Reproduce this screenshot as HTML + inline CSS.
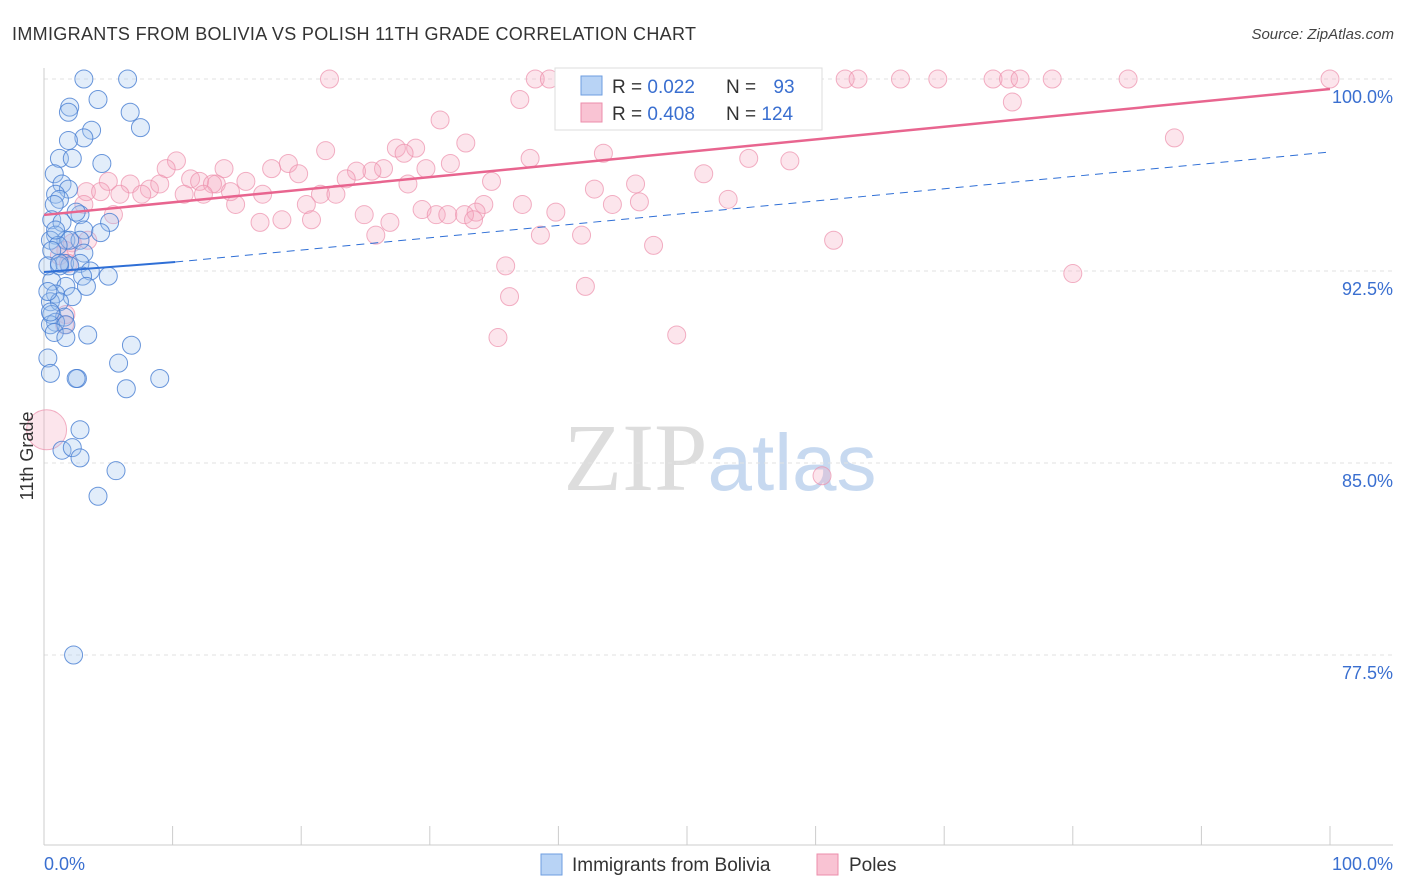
<!DOCTYPE html>
<html><head><meta charset="utf-8"><style>
body{margin:0;background:#fff;font-family:"Liberation Sans",sans-serif;}
svg{display:block}
</style></head><body>
<svg id="chart" width="1406" height="892" viewBox="0 0 1406 892" xmlns="http://www.w3.org/2000/svg">
<text x="12" y="40" font-size="18" fill="#333" textLength="684">IMMIGRANTS FROM BOLIVIA VS POLISH 11TH GRADE CORRELATION CHART</text>
<text x="1394" y="39" font-size="15" fill="#444" font-style="italic" text-anchor="end">Source: ZipAtlas.com</text>
<text x="720" y="490" font-size="96" fill="#ddd" text-anchor="middle" font-family="Liberation Serif,serif">ZIP<tspan fill="#c7d9f0" font-family="Liberation Sans,sans-serif" font-size="80">atlas</tspan></text>
<g id="grid"></g>
<g id="axes"></g>
<g id="pts"></g>
<g id="trends"></g>
<text transform="translate(33,456) rotate(-90)" font-size="18" fill="#333" text-anchor="middle">11th Grade</text>
<g>
<rect x="555" y="68" width="267" height="62" fill="#fff" stroke="#ddd"/>
<rect x="581" y="76" width="21" height="19" fill="#b8d3f5" stroke="#6e9ee0"/>
<rect x="581" y="103" width="21" height="19" fill="#f9c3d3" stroke="#ec8eab"/>
<text x="612" y="93" font-size="19" fill="#333">R = <tspan fill="#3a6fd0">0.022</tspan></text>
<text x="726" y="93" font-size="19" fill="#333">N = <tspan fill="#3a6fd0" dx="12">93</tspan></text>
<text x="612" y="120" font-size="19" fill="#333">R = <tspan fill="#3a6fd0">0.408</tspan></text>
<text x="726" y="120" font-size="19" fill="#333">N = <tspan fill="#3a6fd0">124</tspan></text>
</g>
<g>
<rect x="541" y="854" width="21" height="21" fill="#b8d3f5" stroke="#6e9ee0"/>
<text x="572" y="871" font-size="19" fill="#333">Immigrants from Bolivia</text>
<rect x="817" y="854" width="21" height="21" fill="#f9c3d3" stroke="#ec8eab"/>
<text x="849" y="871" font-size="19" fill="#333">Poles</text>
</g>
</svg>
<script>
const yTicks=[100,92.5,85,77.5];
const yTickLabels=["100.0%","92.5%","85.0%","77.5%"];
const xTickLabels=["0.0%","100.0%"];
const blueX=[3.1,6.5,2.0,4.2,1.9,6.7,3.7,7.5,3.1,1.9,1.2,2.2,4.5,0.8,1.4,1.9,0.9,1.2,0.8,2.8,2.5,0.6,5.1,1.4,3.1,4.4,0.9,1.7,0.5,2.8,2.0,1.1,3.1,0.6,1.6,2.8,3.6,2.0,1.2,5.0,3.0,0.6,1.7,3.3,0.9,2.2,0.5,1.2,0.6,1.6,0.9,0.5,1.7,0.8,3.4,1.7,6.8,5.8,0.3,0.5,2.6,2.5,6.4,9.0,2.8,1.4,2.2,2.8,5.6,4.2,2.3,0.3,0.3,0.5,0.9,1.2];
const blueY=[100,100,98.9,99.2,98.7,98.7,98.0,98.1,97.7,97.6,96.9,96.9,96.7,96.3,95.9,95.7,95.5,95.3,95.1,94.7,94.8,94.5,94.4,94.4,94.1,94.0,93.9,93.7,93.7,93.7,93.7,93.5,93.2,93.3,92.8,92.8,92.5,92.7,92.7,92.3,92.3,92.1,91.9,91.9,91.6,91.5,91.3,91.3,90.8,90.7,90.5,90.4,90.4,90.1,90.0,89.9,89.6,88.9,89.1,88.5,88.3,88.3,87.9,88.3,86.3,85.5,85.6,85.2,84.7,83.7,77.5,92.7,91.7,90.9,94.1,92.8];
const pinkX=[22.2,38.2,39.3,41.3,43.2,44.8,47.9,51.0,53.7,54.5,57.2,62.3,63.3,66.6,69.5,73.8,75.0,75.9,78.4,84.3,100,37.0,75.3,41.1,87.9,30.8,32.8,27.4,28.9,28.0,21.9,43.5,37.8,54.8,58.0,10.3,14.0,9.5,17.7,19.0,26.4,29.7,31.6,25.5,24.3,23.5,19.8,34.8,51.3,46.0,42.8,5.0,6.7,3.3,8.2,4.4,9.0,11.4,12.1,13.4,14.5,15.7,17.0,7.6,5.9,13.1,14.9,12.4,10.9,21.5,22.7,20.4,28.3,37.2,29.4,53.2,46.3,44.2,34.2,33.6,30.5,31.4,32.7,33.4,39.8,24.9,20.8,18.5,16.8,5.4,3.1,26.9,25.8,38.6,41.8,47.4,61.4,3.4,2.2,1.7,1.2,35.9,80.0,42.1,36.2,1.7,1.6,35.3,49.2,60.5,1.9,0.2];
const pinkY=[100,100,100,100,100,100,100,100,100,100,100,100,100,100,100,100,100,100,100,100,100,99.2,99.1,99.1,97.7,98.4,97.5,97.3,97.3,97.1,97.2,97.1,96.9,96.9,96.8,96.8,96.5,96.5,96.5,96.7,96.5,96.5,96.7,96.4,96.4,96.1,96.3,96.0,96.3,95.9,95.7,96.0,95.9,95.6,95.7,95.6,95.9,96.1,96.0,95.9,95.6,96.0,95.5,95.5,95.5,95.9,95.1,95.5,95.5,95.5,95.5,95.1,95.9,95.1,94.9,95.3,95.2,95.1,95.1,94.8,94.7,94.7,94.7,94.5,94.8,94.7,94.5,94.5,94.4,94.7,95.1,94.4,93.9,93.9,93.9,93.5,93.7,93.7,93.6,93.3,93.1,92.7,92.4,91.9,91.5,90.8,90.4,89.9,90.0,84.5,92.8,86.3];
const blueTrendX=[0,10.2,100];
const blueTrendY=[92.46,92.85,97.15];
const pinkTrendX=[0,100];
const pinkTrendY=[94.69,99.61];

const NS="http://www.w3.org/2000/svg";
const X0=44,X1=1330,YT=79;
function xs(v){return X0+(X1-X0)*v/100;}
function ys(v){return YT+(100-v)/7.5*192;}
function mk(tag,attrs,parent){const e=document.createElementNS(NS,tag);for(const k in attrs)e.setAttribute(k,attrs[k]);document.getElementById(parent).appendChild(e);return e;}

yTicks.forEach((t,i)=>{
  const g=mk('line',{x1:X0,x2:1393,y1:ys(t),y2:ys(t),stroke:'#e2e2e2','stroke-dasharray':'4,4'},'grid');
  
  
  const l=mk('text',{x:1393,y:ys(t)+24,'font-size':18,fill:'#3a6fd0','text-anchor':'end'},'axes');
  l.textContent=yTickLabels[i];
  
  
});
const ya=mk('line',{x1:X0,x2:X0,y1:68,y2:845,stroke:'#ccc'},'axes');


const xa=mk('line',{x1:X0,x2:1393,y1:845,y2:845,stroke:'#ccc'},'axes');


for(let i=0;i<=10;i++){
  const t=mk('line',{x1:xs(i*10),x2:xs(i*10),y1:826,y2:845,stroke:'#ccc'},'axes');
  
  
}
[[0,'start',44],[1,'end',1393]].forEach(([i,a,x])=>{
  const l=mk('text',{x:x,y:870,'font-size':18,fill:'#3a6fd0','text-anchor':a},'axes');
  l.textContent=xTickLabels[i];
  
  
});
pinkX.forEach((v,i)=>{
  const big=i===pinkX.length-1;
  const c=mk('circle',{cx:xs(v),cy:ys(pinkY[i]),r:big?20:9,fill:'rgba(246,168,192,0.3)',stroke:'rgba(236,142,171,0.7)','stroke-width':1},'pts');
  
  
});
blueX.forEach((v,i)=>{
  const c=mk('circle',{cx:xs(v),cy:ys(blueY[i]),r:9,fill:'rgba(160,196,240,0.3)',stroke:'rgba(70,125,210,0.8)','stroke-width':1},'pts');
  
  
});
const bs=mk('line',{x1:xs(blueTrendX[0]),y1:ys(blueTrendY[0]),x2:xs(blueTrendX[1]),y2:ys(blueTrendY[1]),stroke:'#2f6fd6','stroke-width':2},'trends');


const bd=mk('line',{x1:xs(blueTrendX[1]),y1:ys(blueTrendY[1]),x2:xs(blueTrendX[2]),y2:ys(blueTrendY[2]),stroke:'#2f6fd6','stroke-width':1,'stroke-dasharray':'8,6'},'trends');


const pt=mk('line',{x1:xs(pinkTrendX[0]),y1:ys(pinkTrendY[0]),x2:xs(pinkTrendX[1]),y2:ys(pinkTrendY[1]),stroke:'#e8658f','stroke-width':2.5},'trends');


</script>
</body></html>
